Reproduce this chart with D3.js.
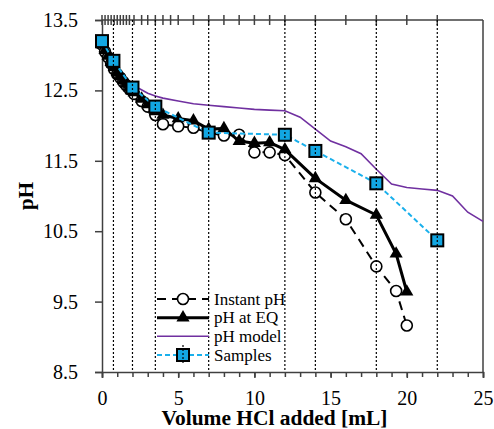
<!DOCTYPE html>
<html>
<head>
<meta charset="utf-8">
<script src="https://cdn.jsdelivr.net/npm/d3@7"></script>
<style>
	body { margin: 0; background: #fff; }
	svg text { font-family: "Liberation Serif", "Times New Roman", serif; fill: #000; }
	.axis path, .axis line { stroke: #404040; stroke-width: 1.5; }
</style>
</head>
<body>
<div id="chart"></div>
<script>
// instant pH (open circles, dashed)
var instantX = [0, 0.2, 0.4, 0.6, 0.8, 1.0, 1.2, 1.4, 1.6, 1.8, 2.1, 2.6, 3, 3.5, 4, 5, 6, 7, 8, 9, 10, 11, 12, 14, 16, 18, 19.3, 20];
var instantY = [13.15, 13.05, 12.97, 12.88, 12.8, 12.73, 12.68, 12.62, 12.57, 12.52, 12.45, 12.35, 12.27, 12.15, 12.02, 11.99, 11.97, 11.9, 11.86, 11.87, 11.62, 11.62, 11.58, 11.05, 10.67, 10.0, 9.65, 9.16];
// pH at equilibrium (triangles)
var eqX = [0, 0.2, 0.4, 0.6, 0.8, 1.0, 1.2, 1.4, 1.6, 1.8, 2.1, 2.6, 3, 3.5, 4, 5, 6, 7, 8, 9, 10, 11, 12, 14, 16, 18, 19.3, 20];
var eqY = [13.15, 13.07, 12.99, 12.9, 12.83, 12.76, 12.7, 12.64, 12.59, 12.54, 12.47, 12.38, 12.3, 12.2, 12.15, 12.1, 12.07, 11.95, 11.96, 11.78, 11.75, 11.76, 11.66, 11.25, 10.94, 10.73, 10.18, 9.64];
// model curve
var modelX = [0, 0.5, 1, 1.5, 2, 2.5, 3, 3.5, 4, 5, 6, 7, 8, 9, 10, 11, 12, 13, 14, 15, 16, 17, 18, 19, 20, 21, 22, 23, 24, 25];
var modelY = [13.12, 12.95, 12.8, 12.68, 12.57, 12.52, 12.46, 12.42, 12.39, 12.35, 12.31, 12.29, 12.27, 12.25, 12.23, 12.22, 12.21, 12.12, 11.95, 11.78, 11.7, 11.6, 11.38, 11.17, 11.12, 11.1, 11.08, 11.0, 10.77, 10.64];
// samples
var sampleX = [0, 0.75, 2, 3.5, 7, 12, 14, 18, 22];
var sampleY = [13.2, 12.92, 12.54, 12.27, 11.9, 11.87, 11.64, 11.18, 10.37];

var xTicks = [0, 5, 10, 15, 20, 25];
var yTicks = [8.5, 9.5, 10.5, 11.5, 12.5, 13.5];
var topTicks = [0, 0.2, 0.4, 0.6, 0.8, 1.0, 1.2, 1.4, 1.6, 1.8, 2.1, 2.6, 3, 3.5, 4, 4.5, 5, 6, 7, 8, 9, 10, 11, 12, 14, 16, 18, 20, 22];
var legendLabels = ['Instant pH', 'pH at EQ', 'pH model', 'Samples'];

var SERIF = '"Liberation Serif", "Times New Roman", serif';

function TitrationChart(config) {
	var me = this;
	me.width  = config.width;
	me.height = config.height;
	me.margin = config.margin;
	me.viewWidth  = me.width  - me.margin.left - me.margin.right;
	me.viewHeight = me.height - me.margin.top  - me.margin.bottom;

	me.svg = d3.select('#' + config.parentId).append('svg')
		.attr('width', me.width)
		.attr('height', me.height);
	me.vis = me.svg.append('g')
		.attr('transform', 'translate(' + me.margin.left + ',' + me.margin.top + ')');

	me.xScale = d3.scaleLinear().domain([0, 25]).range([0, me.viewWidth]);
	me.yScale = d3.scaleLinear().domain([8.5, 13.5]).range([me.viewHeight, 0]);

	me.drawAxes();
	me.drawSeries();
	me.drawLegend();
}

TitrationChart.prototype.drawAxes = function() {
	var me = this;

	// minor ticks every 1 mL on bottom
	me.vis.append('g')
		.attr('class', 'axis')
		.attr('transform', 'translate(0,' + me.viewHeight + ')')
		.call(d3.axisBottom(me.xScale).tickValues(d3.range(0, 26)).tickSize(5).tickFormat(''))
		.select('.domain').remove();

	var xb = me.vis.append('g')
		.attr('class', 'axis')
		.attr('transform', 'translate(0,' + me.viewHeight + ')')
		.call(d3.axisBottom(me.xScale).tickValues(xTicks).tickSizeOuter(0).tickSize(6).tickPadding(13))
		.attr('font-family', SERIF).attr('font-size', 20);
	xb.selectAll('text').attr('font-family', SERIF).style('font-family', SERIF).style('font-size', '20px');

	var yl = me.vis.append('g')
		.attr('class', 'axis')
		.call(d3.axisLeft(me.yScale).tickValues(yTicks).tickSizeOuter(0).tickSize(7).tickPadding(17).tickFormat(d3.format('.1f')))
		.attr('font-family', SERIF).attr('font-size', 20);
	yl.selectAll('text').attr('font-family', SERIF).style('font-family', SERIF).style('font-size', '20px');

	// top axis: ticks crossing the line
	var xt = me.vis.append('g').attr('class', 'axis');
	xt.append('line').attr('x1', 0).attr('x2', me.viewWidth).attr('y1', 0).attr('y2', 0);
	xt.selectAll('.tt').data(topTicks).enter().append('line')
		.attr('class', 'tt')
		.attr('x1', function(d) { return me.xScale(d); })
		.attr('x2', function(d) { return me.xScale(d); })
		.attr('y1', -5).attr('y2', 5);

	// right frame
	me.vis.append('line')
		.attr('x1', me.viewWidth).attr('x2', me.viewWidth)
		.attr('y1', 0).attr('y2', me.viewHeight)
		.attr('stroke', '#404040').attr('stroke-width', 1.5);

	me.svg.append('text')
		.attr('transform', 'translate(33,' + (me.margin.top + me.viewHeight / 2) + ') rotate(-90)')
		.attr('text-anchor', 'middle')
		.style('font-size', '21px').style('font-weight', 'bold')
		.text('pH');
	me.svg.append('text')
		.attr('x', me.margin.left + me.viewWidth / 2 - 18)
		.attr('y', 425)
		.attr('text-anchor', 'middle')
		.attr('textLength', 226).attr('lengthAdjust', 'spacingAndGlyphs')
		.style('font-size', '20px').style('font-weight', 'bold')
		.text('Volume HCl added [mL]');
}

TitrationChart.prototype.drawSeries = function() {
	var me = this;
	var line = d3.line()
		.x(function(d) { return me.xScale(d[0]); })
		.y(function(d) { return me.yScale(d[1]); });

	var model   = d3.zip(modelX, modelY),
		instant = d3.zip(instantX, instantY),
		eq      = d3.zip(eqX, eqY),
		samples = d3.zip(sampleX, sampleY);

	me.vis.append('path').attr('d', line(model))
		.attr('fill', 'none').attr('stroke', '#7030a0').attr('stroke-width', 1.6);

	me.vis.append('path').attr('d', line(instant))
		.attr('fill', 'none').attr('stroke', '#000').attr('stroke-width', 2)
		.attr('stroke-dasharray', '9,6');
	me.vis.selectAll('.inst').data(instant).enter().append('circle')
		.attr('class', 'inst')
		.attr('cx', function(d) { return me.xScale(d[0]); })
		.attr('cy', function(d) { return me.yScale(d[1]); })
		.attr('r', 5.5)
		.attr('fill', '#fff').attr('stroke', '#000').attr('stroke-width', 1.6);

	me.vis.append('path').attr('d', line(eq))
		.attr('fill', 'none').attr('stroke', '#000').attr('stroke-width', 3);
	var tri = d3.symbol().type(d3.symbolTriangle).size(75);
	me.vis.selectAll('.eq').data(eq).enter().append('path')
		.attr('class', 'eq')
		.attr('d', tri)
		.attr('transform', function(d) { return 'translate(' + me.xScale(d[0]) + ',' + me.yScale(d[1]) + ')'; })
		.attr('fill', '#000');

	me.vis.append('path').attr('d', line(samples))
		.attr('fill', 'none').attr('stroke', '#1ab0ec').attr('stroke-width', 2)
		.attr('stroke-dasharray', '5,3');
	me.vis.selectAll('.smp').data(samples).enter().append('rect')
		.attr('class', 'smp')
		.attr('x', function(d) { return me.xScale(d[0]) - 6; })
		.attr('y', function(d) { return me.yScale(d[1]) - 6; })
		.attr('width', 12).attr('height', 12)
		.attr('fill', '#12a6e2').attr('stroke', '#000').attr('stroke-width', 2);

	// sample error bars, dotted, spanning the plot
	me.vis.selectAll('.err').data(samples.slice(1)).enter().append('line')
		.attr('class', 'err')
		.attr('x1', function(d) { return me.xScale(d[0]); })
		.attr('x2', function(d) { return me.xScale(d[0]); })
		.attr('y1', me.yScale(13.5)).attr('y2', me.yScale(8.5))
		.attr('stroke', '#000').attr('stroke-width', 1.2)
		.attr('stroke-dasharray', '2,2');
}

TitrationChart.prototype.drawLegend = function() {
	var me = this;
	var x0 = 157 - me.margin.left, x1 = 209 - me.margin.left, xm = (x0 + x1) / 2;
	var rowY = [299, 317.7, 336.3, 355];
	var lg = me.vis.append('g').attr('class', 'legend');

	legendLabels.forEach(function(label, i) {
		var y = rowY[i] - me.margin.top;
		var g = lg.append('g');
		var ln = g.append('line').attr('x1', x0).attr('x2', x1).attr('y1', y).attr('y2', y);
		if (i === 0) {
			ln.attr('stroke', '#000').attr('stroke-width', 2).attr('stroke-dasharray', '9,6');
			g.append('circle').attr('cx', xm).attr('cy', y).attr('r', 5.5)
				.attr('fill', '#fff').attr('stroke', '#000').attr('stroke-width', 1.6);
		} else if (i === 1) {
			ln.attr('stroke', '#000').attr('stroke-width', 3);
			g.append('path').attr('d', d3.symbol().type(d3.symbolTriangle).size(75))
				.attr('transform', 'translate(' + xm + ',' + y + ')').attr('fill', '#000');
		} else if (i === 2) {
			ln.attr('stroke', '#7030a0').attr('stroke-width', 1.6);
		} else {
			ln.attr('stroke', '#1ab0ec').attr('stroke-width', 2).attr('stroke-dasharray', '5,3');
			g.append('rect').attr('x', xm - 6).attr('y', y - 6).attr('width', 12).attr('height', 12)
				.attr('fill', '#12a6e2').attr('stroke', '#000').attr('stroke-width', 2);
			g.append('line').attr('x1', xm).attr('x2', xm).attr('y1', y - 10).attr('y2', y + 10)
				.attr('stroke', '#000').attr('stroke-width', 1.2).attr('stroke-dasharray', '2,2');
		}
		g.append('text').attr('x', x1 + 5).attr('y', y).attr('dy', '0.33em')
			.style('font-size', '17px').text(label);
	});
}

new TitrationChart({
	parentId: 'chart',
	width: 494,
	height: 429,
	margin: {top: 20, right: 11, bottom: 57, left: 102}
});
</script>
</body>
</html>
